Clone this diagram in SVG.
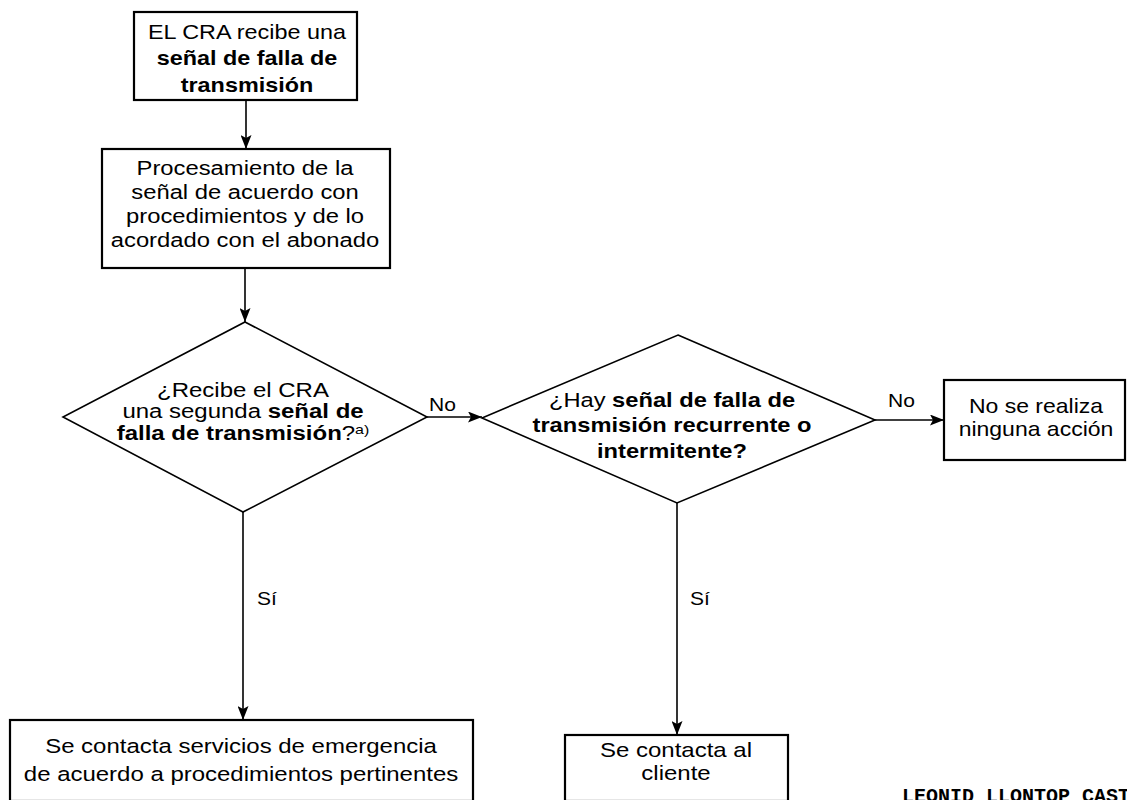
<svg xmlns="http://www.w3.org/2000/svg" width="1127" height="800" viewBox="0 0 1127 800">
  <style>
    .box { fill: #fff; stroke: #000; stroke-width: 2.2; }
    .dia { fill: #fff; stroke: #000; stroke-width: 1.6; stroke-linejoin: miter; }
    .t { font-family: "Liberation Sans", Arial, sans-serif; font-size: 20px; fill: #000; text-anchor: middle; }
    .q { font-size: 19.5px; }
    .b { font-weight: bold; }
    .lbl { font-family: "Liberation Sans", Arial, sans-serif; font-size: 18px; fill: #000; }
    .sup { font-size: 13px; }
    .edge { fill: none; stroke: #000; stroke-width: 1.6; marker-end: url(#ah); }
    .foot { font-family: "Liberation Mono", "Courier New", monospace; font-size: 20px; font-weight: bold; fill: #000; }
  </style>
  <defs>
    <marker id="ah" markerUnits="userSpaceOnUse" markerWidth="14" markerHeight="11" refX="14" refY="5.5" orient="auto">
      <path d="M0,0 L14,5.5 L0,11 L3,5.5 z" fill="#000"/>
    </marker>
  </defs>

  <rect width="1127" height="800" fill="#fff"/>

  <!-- connectors -->
  <g id="connectors">
    <line class="edge" x1="246" y1="100" x2="246" y2="149"/>
    <line class="edge" x1="245" y1="268" x2="245" y2="322"/>
    <line class="edge" x1="427" y1="417" x2="482" y2="417"/>
    <text class="lbl" x="429" y="411" transform="translate(429 0) scale(1.17 1) translate(-429 0)">No</text>
    <line class="edge" x1="875" y1="420" x2="944" y2="420"/>
    <text class="lbl" x="888" y="407" transform="translate(888 0) scale(1.17 1) translate(-888 0)">No</text>
    <line class="edge" x1="243" y1="512" x2="243" y2="720"/>
    <text class="lbl" x="257" y="605" transform="translate(257 0) scale(1.17 1) translate(-257 0)">Sí</text>
    <line class="edge" x1="677" y1="503" x2="677" y2="735"/>
    <text class="lbl" x="690" y="605" transform="translate(690 0) scale(1.17 1) translate(-690 0)">Sí</text>
  </g>

  <!-- start: transmission failure signal received -->
  <g id="start">
    <rect class="box" x="134" y="12" width="223" height="88"/>
    <g transform="translate(247 0) scale(1.17 1)">
      <text class="t" y="39">EL CRA recibe una</text>
      <text class="t b" y="65.5">señal de falla de</text>
      <text class="t b" y="92">transmisión</text>
    </g>
  </g>

  <!-- signal processing -->
  <g id="process">
    <rect class="box" x="102" y="149" width="288" height="119"/>
    <g transform="translate(245 0) scale(1.19 1)">
      <text class="t" y="175">Procesamiento de la</text>
      <text class="t" y="199">señal de acuerdo con</text>
      <text class="t" y="223">procedimientos y de lo</text>
      <text class="t" y="247">acordado con el abonado</text>
    </g>
  </g>

  <!-- decision: second failure signal -->
  <g id="second-signal">
    <polygon class="dia" points="245,322 427,417 243,512 63,417"/>
    <g transform="translate(243 0) scale(1.23 1)">
      <text class="t q" y="397">¿Recibe el CRA</text>
      <text class="t q" y="418.5">una segunda <tspan class="b">señal de</tspan></text>
      <text class="t q" y="440"><tspan class="b">falla de transmisión</tspan>?<tspan class="sup" dy="-6">a)</tspan></text>
    </g>
  </g>

  <!-- decision: recurrent / intermittent failure -->
  <g id="recurrent">
    <polygon class="dia" points="678,335 875,420 677,503 482,418"/>
    <g transform="translate(672 0) scale(1.215 1)">
      <text class="t q" y="407">¿Hay <tspan class="b">señal de falla de</tspan></text>
      <text class="t q b" y="432">transmisión recurrente o</text>
      <text class="t q b" y="458">intermitente?</text>
    </g>
  </g>

  <!-- no action -->
  <g id="no-action">
    <rect class="box" x="944" y="380" width="181" height="80"/>
    <g transform="translate(1036 0) scale(1.15 1)">
      <text class="t" y="413">No se realiza</text>
      <text class="t" y="436">ninguna acción</text>
    </g>
  </g>

  <!-- emergency services -->
  <g id="emergency">
    <rect class="box" x="10" y="720" width="463" height="81"/>
    <g transform="translate(241 0) scale(1.17 1)">
      <text class="t" style="font-size:20.5px" y="753">Se contacta servicios de emergencia</text>
      <text class="t" style="font-size:20.5px" y="781">de acuerdo a procedimientos pertinentes</text>
    </g>
  </g>

  <!-- contact customer -->
  <g id="contact-client">
    <rect class="box" x="565" y="735" width="223" height="66"/>
    <g transform="translate(676 0) scale(1.2 1)">
      <text class="t" y="757">Se contacta al</text>
      <text class="t" y="780">cliente</text>
    </g>
  </g>

  <text class="foot" x="902" y="802">LEONID LLONTOP CASTI</text>
</svg>
